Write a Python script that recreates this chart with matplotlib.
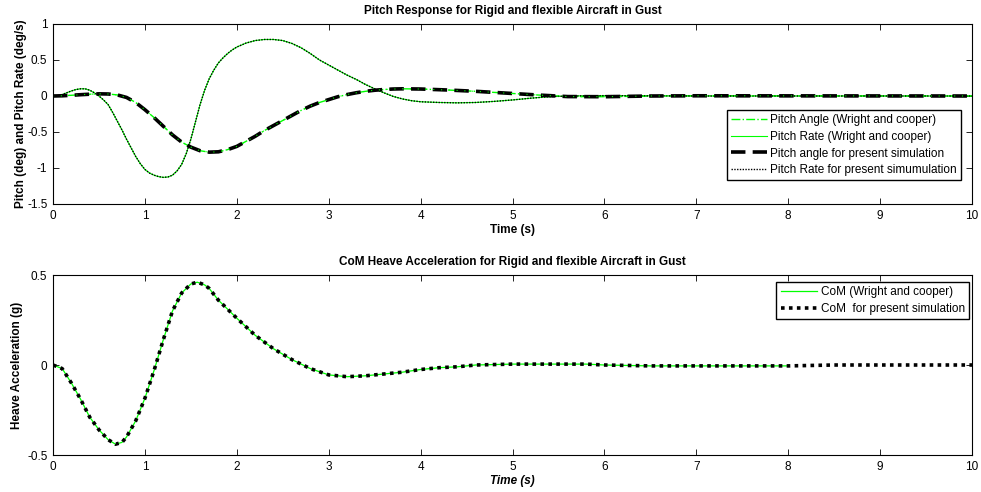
import matplotlib
matplotlib.use('Agg')
import matplotlib.pyplot as plt

plt.rcParams['font.family'] = ['Liberation Sans', 'DejaVu Sans']

# pitch rate (deg/s)
t_rate = [0, 0.05, 0.1, 0.15, 0.2, 0.25, 0.3, 0.35, 0.4, 0.45, 0.5, 0.55, 0.6, 0.65,
          0.7, 0.75, 0.8, 0.85, 0.9, 0.95, 1.0, 1.05, 1.1, 1.15, 1.2, 1.25, 1.3, 1.35,
          1.4, 1.45, 1.5, 1.55, 1.6, 1.65, 1.7, 1.75, 1.8, 1.85, 1.9, 1.95, 2.0, 2.1,
          2.2, 2.3, 2.4, 2.5, 2.6, 2.7, 2.8, 2.9, 3.0, 3.1, 3.2, 3.3, 3.4, 3.5, 3.6,
          3.7, 3.8, 3.9, 4.0, 4.2, 4.4, 4.6, 4.8, 5.0, 5.2, 5.4, 5.6, 6.0, 7.0, 10.0]
pitch_rate = [0, 0.005, 0.02, 0.045, 0.07, 0.09, 0.1, 0.1, 0.08, 0.045, 0.0, -0.055,
              -0.12, -0.23, -0.35, -0.47, -0.6, -0.72, -0.84, -0.94, -1.02, -1.07, -1.1,
              -1.12, -1.13, -1.125, -1.1, -1.04, -0.95, -0.8, -0.6, -0.36, -0.12, 0.08,
              0.24, 0.36, 0.46, 0.53, 0.59, 0.64, 0.68, 0.735, 0.77, 0.785, 0.785, 0.77,
              0.73, 0.67, 0.59, 0.5, 0.43, 0.36, 0.29, 0.23, 0.16, 0.1, 0.045, -0.005,
              -0.04, -0.065, -0.08, -0.09, -0.095, -0.09, -0.075, -0.055, -0.03, -0.01,
              0.0, 0.005, 0.0, 0.0]

# pitch angle (deg)
t_ang = [0, 0.1, 0.2, 0.3, 0.4, 0.5, 0.6, 0.7, 0.8, 0.9, 1.0, 1.1, 1.2, 1.3, 1.4, 1.5,
         1.6, 1.7, 1.8, 1.9, 2.0, 2.1, 2.2, 2.3, 2.4, 2.5, 2.6, 2.7, 2.8, 2.9, 3.0, 3.1,
         3.2, 3.3, 3.4, 3.5, 3.6, 3.7, 3.8, 4.0, 4.3, 4.6, 5.0, 5.3, 5.6, 6.0, 6.5, 7.0,
         10.0]
pitch_ang = [0, 0.003, 0.01, 0.018, 0.025, 0.03, 0.028, 0.015, -0.02, -0.09, -0.19,
             -0.3, -0.42, -0.54, -0.64, -0.71, -0.76, -0.78, -0.775, -0.745, -0.7, -0.63,
             -0.56, -0.48, -0.41, -0.34, -0.27, -0.2, -0.14, -0.09, -0.05, -0.01, 0.02,
             0.045, 0.065, 0.08, 0.09, 0.097, 0.1, 0.097, 0.083, 0.065, 0.035, 0.012,
             -0.008, -0.01, 0.0, 0.003, 0.0]

# CoM heave acceleration (g)
t_heave = [0, 0.1, 0.2, 0.3, 0.4, 0.5, 0.6, 0.68, 0.75, 0.8, 0.9, 1.0, 1.1, 1.2, 1.3,
           1.4, 1.5, 1.57, 1.65, 1.7, 1.8, 1.9, 2.0, 2.2, 2.4, 2.6, 2.8, 3.0, 3.2, 3.4,
           3.6, 3.8, 4.0, 4.2, 4.4, 4.6, 5.0, 5.8, 6.0, 6.5, 7.0, 8.0, 8.5, 10.0]
heave = [0, -0.02, -0.1, -0.19, -0.29, -0.36, -0.415, -0.44, -0.43, -0.4, -0.31, -0.185,
         -0.03, 0.14, 0.3, 0.4, 0.45, 0.46, 0.445, 0.425, 0.36, 0.31, 0.26, 0.165, 0.09,
         0.03, -0.02, -0.055, -0.065, -0.06, -0.05, -0.04, -0.025, -0.015, -0.01, 0.0,
         0.005, 0.005, 0.0, -0.005, -0.005, -0.005, 0.0, 0.0]

fig = plt.figure(figsize=(9.81, 4.92), dpi=100)
ax1 = fig.add_axes([53/981, 1 - 204/492, 919/981, 180/492])
ax2 = fig.add_axes([53/981, 1 - 455/492, 919/981, 180/492])

green = '#00ff00'

ax1.plot(t_ang, pitch_ang, color=green, ls='-.', lw=1, label='Pitch Angle (Wright and cooper)')
ax1.plot(t_rate, pitch_rate, color=green, ls='-', lw=0.8, label='Pitch Rate (Wright and cooper)')
ax1.plot(t_ang, pitch_ang, color='black', ls=(0, (4, 2)), lw=2.6, label='Pitch angle for present simulation')
ax1.plot(t_rate, pitch_rate, color='black', ls=(0, (1, 1)), lw=1.0, label='Pitch Rate for present simumulation')
# green dash-dot shows through the thick dashed line, as in the original
ax1.plot(t_ang, pitch_ang, color=green, ls=(0, (1, 6)), lw=0.8)

ax1.set_xlim(0, 10)
ax1.set_ylim(-1.5, 1)
ax1.set_yticks([-1.5, -1, -0.5, 0, 0.5, 1])
ax1.set_yticklabels(['-1.5', '-1', '-0.5', '0', '0.5', '1'])
ax1.set_xticks(range(11))
ax1.set_title('Pitch Response for Rigid and flexible Aircraft in Gust', fontsize=8.5, fontweight='bold', pad=7)
ax1.set_xlabel('Time (s)', fontsize=8.5, fontweight='bold', labelpad=2)
ax1.set_ylabel('Pitch (deg) and Pitch Rate (deg/s)', fontsize=8.5, fontweight='bold', labelpad=0)
ax1.legend(loc='upper left', bbox_to_anchor=(0.733, 0.522), fontsize=8.5, frameon=True,
           fancybox=False, edgecolor='black', framealpha=1, borderpad=0.35, labelspacing=0.4,
           handlelength=3.1, handletextpad=0.25, borderaxespad=0)

ax2.plot(t_heave[:-2] + [8.0], heave[:-2] + [-0.005], color=green, lw=0.9, label='CoM (Wright and cooper)')
ax2.plot(t_heave, heave, color='black', ls=(0, (1, 1.2)), lw=2.6, label='CoM  for present simulation')
ax2.set_xlim(0, 10)
ax2.set_ylim(-0.5, 0.5)
ax2.set_yticks([-0.5, 0, 0.5])
ax2.set_yticklabels(['-0.5', '0', '0.5'])
ax2.set_xticks(range(11))
ax2.set_title('CoM Heave Acceleration for Rigid and flexible Aircraft in Gust', fontsize=8.5, fontweight='bold', pad=7)
ax2.set_xlabel('Time (s)', fontsize=8.5, fontweight='bold', fontstyle='italic', labelpad=2)
ax2.set_ylabel('Heave Acceleration (g)', fontsize=8.5, fontweight='bold', labelpad=3)
ax2.legend(loc='upper right', bbox_to_anchor=(0.9967, 0.961), fontsize=8.5, frameon=True,
           fancybox=False, edgecolor='black', framealpha=1, borderpad=0.35, labelspacing=0.4,
           handlelength=3.1, handletextpad=0.3, borderaxespad=0)

for ax in (ax1, ax2):
    ax.tick_params(direction='in', top=True, right=True, labelsize=8.5, length=4, width=0.6, pad=4)
    for s in ax.spines.values():
        s.set_linewidth(0.8)

fig.savefig('out.png', dpi=100)
